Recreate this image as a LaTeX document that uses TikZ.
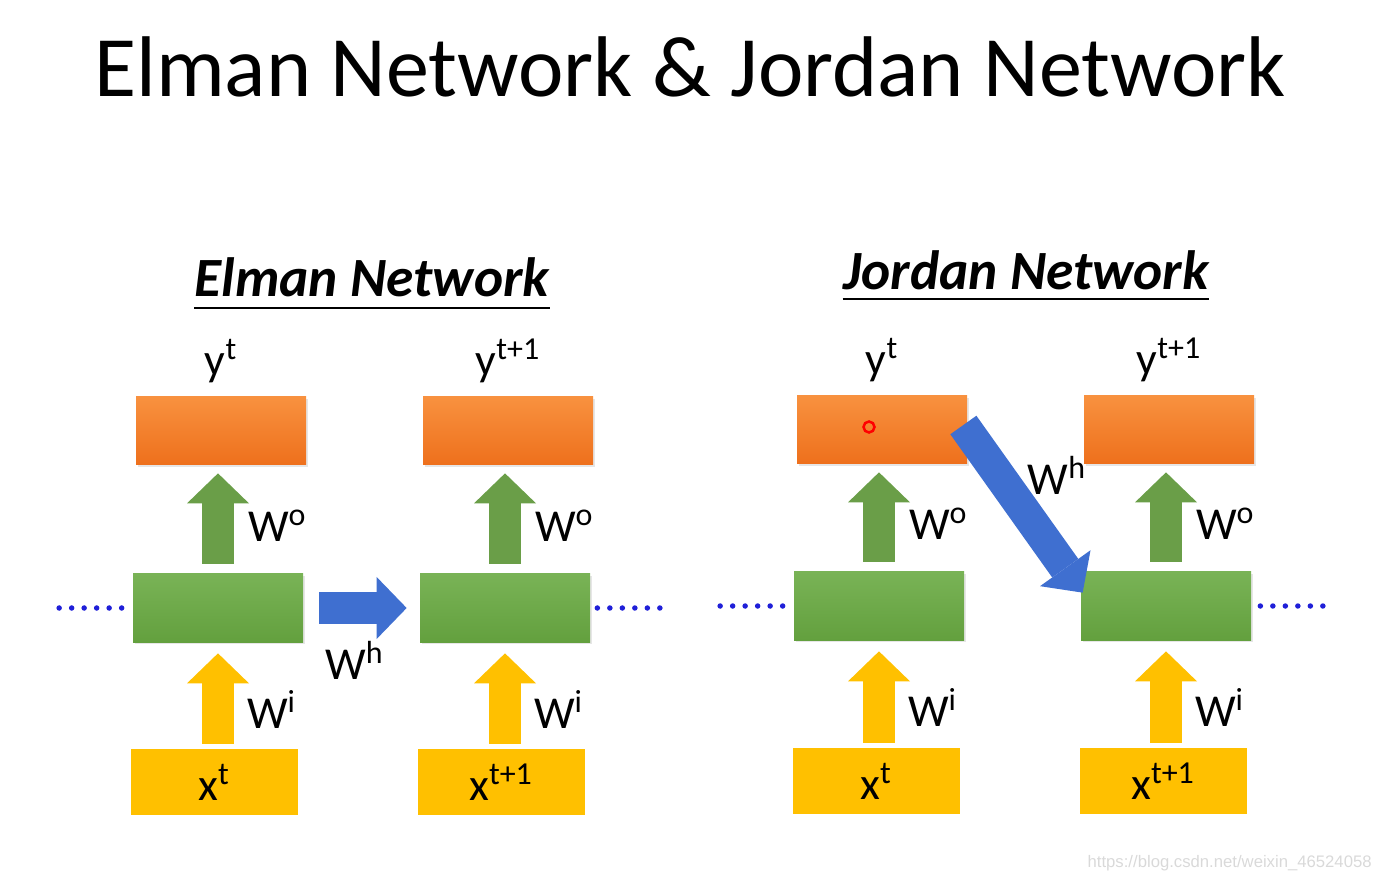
\documentclass[tikz,border=0pt]{standalone}
\usepackage{fontspec}
\setmainfont{Carlito}
\newfontfamily\wmfont{Liberation Sans}
\usetikzlibrary{arrows.meta,positioning,shadows}
\definecolor{outtop}{HTML}{F8913F}
\definecolor{outbot}{HTML}{EE701C}
\definecolor{hidtop}{HTML}{79B356}
\definecolor{hidbot}{HTML}{63A03E}
\definecolor{hidarr}{HTML}{6A9E48}
\definecolor{inpcol}{HTML}{FFC000}
\definecolor{memcol}{HTML}{3F6FD0}
\definecolor{dotcol}{HTML}{1F1FD8}
\tikzset{
  outbox/.style={minimum width=3.4cm, minimum height=1.36cm, top color=outtop, bottom color=outbot,
    drop shadow={opacity=0.2, shadow xshift=0.04cm, shadow yshift=-0.04cm}},
  hidbox/.style={minimum width=3.4cm, minimum height=1.36cm, top color=hidtop, bottom color=hidbot,
    drop shadow={opacity=0.2, shadow xshift=0.04cm, shadow yshift=-0.04cm}},
  inbox/.style={minimum width=3.34cm, minimum height=1.32cm, fill=inpcol, font=\fontsize{26}{30}\selectfont},
  blockarrow/.style={line width=0.64cm, -{Triangle[length=0.6cm, width=1.24cm, line width=0pt]}, color=#1},
  lbl/.style={inner sep=0pt, outer sep=0pt, text=black, font=\fontsize{26}{30}\selectfont},
  netname/.style={anchor=base, inner sep=0pt, font=\fontsize{31.5}{36}\selectfont\bfseries\itshape},
  dotrow/.style={dotcol, line width=0.11cm, line cap=round, dash pattern=on 0pt off 0.25cm},
}

\begin{document}
\begin{tikzpicture}
  \useasboundingbox (0,0) rectangle (27.62,17.6);
  \node[anchor=base, font=\fontsize{49}{56}\selectfont] (title) at (13.8,15.66) {Elman Network \& Jordan Network};

  % Elman network
  \node[netname] (ename) at (7.44,11.66) {Elman Network};
  \draw[line width=0.05cm] ([yshift=-0.2cm]ename.south west) -- ([yshift=-0.2cm]ename.south east);
  \node[outbox] (ey1) at (4.42,8.98) {};
  \node[outbox] (ey2) at (10.16,8.98) {};
  \node[hidbox] (eh1) at (4.36,5.44) {};
  \node[hidbox] (eh2) at (10.10,5.44) {};
  \node[inbox] (ex1) at (4.28,1.96) {x\textsuperscript{t}};
  \node[inbox] (ex2) at (10.02,1.96) {x\textsuperscript{t+1}};
  \node[lbl, above=0.28cm of ey1] (eyl1) {y\textsuperscript{t}};
  \node[lbl, above=0.28cm of ey2] (eyl2) {y\textsuperscript{t+1}};

  \draw[blockarrow=hidarr, shorten <=0.2cm, shorten >=0.16cm] (eh1.north) -- (eh1.north |- ey1.south) node[lbl, midway, right=0.6cm, yshift=-0.12cm] {W\textsuperscript{o}};
  \draw[blockarrow=hidarr, shorten <=0.2cm, shorten >=0.16cm] (eh2.north) -- (eh2.north |- ey2.south) node[lbl, midway, right=0.6cm, yshift=-0.12cm] {W\textsuperscript{o}};
  \draw[blockarrow=inpcol, shorten <=0.1cm, shorten >=0.22cm] (eh1.south |- ex1.north) -- (eh1.south) node[lbl, pos=0.4, right=0.58cm, yshift=-0.06cm] {W\textsuperscript{i}};
  \draw[blockarrow=inpcol, shorten <=0.1cm, shorten >=0.22cm] (eh2.south |- ex2.north) -- (eh2.south) node[lbl, pos=0.4, right=0.58cm, yshift=-0.06cm] {W\textsuperscript{i}};
  \draw[blockarrow=memcol, shorten <=0.32cm, shorten >=0.26cm] (eh1.east) -- (eh2.west) node[lbl, midway, below=0.66cm, xshift=-0.14cm] {W\textsuperscript{h}};
  \draw[dotrow] ([xshift=-0.22cm]eh1.west) -- ++(-1.4,0);
  \draw[dotrow] ([xshift=0.14cm]eh2.east) -- ++(1.4,0);

  % Jordan network
  \node[netname] (jname) at (20.52,11.8) {Jordan Network};
  \draw[line width=0.05cm] ([yshift=-0.16cm]jname.south west) -- ([yshift=-0.16cm]jname.south east);
  \node[outbox] (jy1) at (17.64,9.00) {};
  \node[outbox] (jy2) at (23.38,9.00) {};
  \node[hidbox] (jh1) at (17.58,5.48) {};
  \node[hidbox] (jh2) at (23.32,5.48) {};
  \node[inbox] (jx1) at (17.52,1.98) {x\textsuperscript{t}};
  \node[inbox] (jx2) at (23.26,1.98) {x\textsuperscript{t+1}};
  \node[lbl, above=0.28cm of jy1] (jyl1) {y\textsuperscript{t}};
  \node[lbl, above=0.28cm of jy2] (jyl2) {y\textsuperscript{t+1}};
  \node[circle, draw=red, line width=0.05cm, minimum size=0.22cm, inner sep=0pt] (pointer) at (17.38,9.06) {};

  \draw[blockarrow=hidarr, shorten <=0.2cm, shorten >=0.16cm] (jh1.north) -- (jh1.north |- jy1.south) node[lbl, midway, right=0.6cm, yshift=-0.12cm] {W\textsuperscript{o}};
  \draw[blockarrow=hidarr, shorten <=0.2cm, shorten >=0.16cm] (jh2.north) -- (jh2.north |- jy2.south) node[lbl, midway, right=0.6cm, yshift=-0.12cm] {W\textsuperscript{o}};
  \draw[blockarrow=inpcol, shorten <=0.1cm, shorten >=0.22cm] (jh1.south |- jx1.north) -- (jh1.south) node[lbl, pos=0.4, right=0.58cm, yshift=-0.06cm] {W\textsuperscript{i}};
  \draw[blockarrow=inpcol, shorten <=0.1cm, shorten >=0.22cm] (jh2.south |- jx2.north) -- (jh2.south) node[lbl, pos=0.4, right=0.58cm, yshift=-0.06cm] {W\textsuperscript{i}};
  \draw[blockarrow=memcol] ([xshift=-0.08cm, yshift=0.1cm]jy1.east) -- ([xshift=0.04cm, yshift=-0.42cm]jh2.north west) node[lbl, midway, xshift=0.68cm, yshift=0.66cm] {W\textsuperscript{h}};
  \draw[dotrow] ([xshift=-0.22cm]jh1.west) -- ++(-1.4,0);
  \draw[dotrow] ([xshift=0.18cm]jh2.east) -- ++(1.4,0);

  \node[anchor=base east, inner sep=0pt, font=\wmfont\fontsize{9.5}{11}\selectfont, text=gray!30] (mark) at (27.44,0.26) {https://blog.csdn.net/weixin\_46524058};
\end{tikzpicture}
\end{document}
